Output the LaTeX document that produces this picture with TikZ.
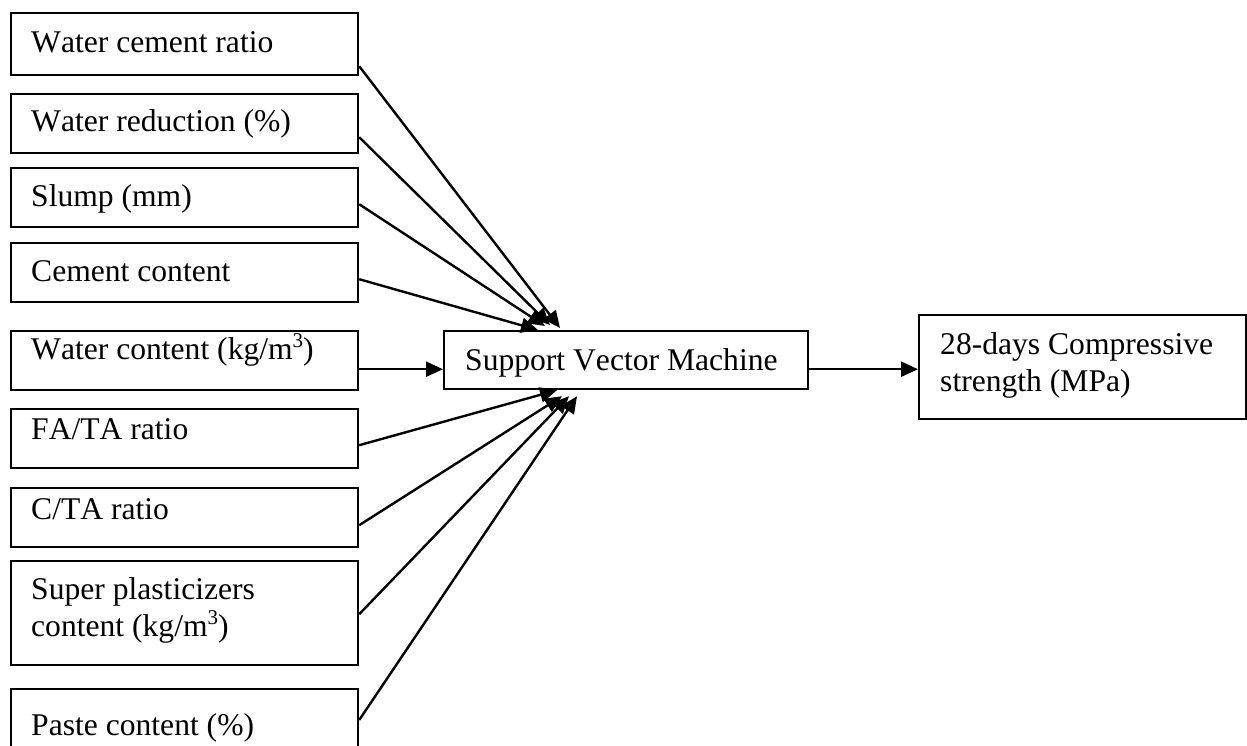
\documentclass[tikz,border=0pt]{standalone}
\usepackage{fontspec}
\setmainfont{Liberation Serif}[Kerning=Off]
\usetikzlibrary{arrows.meta,calc}
\newcommand\cubesup{\raisebox{0.38em}{\fontsize{21}{21}\selectfont 3}}
\begin{document}
\begin{tikzpicture}[x=1pt,y=-1pt,
  box/.style={draw, line width=2.2pt, inner sep=0pt, anchor=north west},
  txt/.style={anchor=base west, inner sep=0pt, font=\fontsize{31.6}{36.7}\selectfont, align=left},
  arr/.style={line width=2.4pt, -{Triangle[length=17pt,width=15pt]}}]
\useasboundingbox (0,0) rectangle (1247,745);
\clip (0,0) rectangle (1247,745);
% input boxes
\node[box, minimum width=347pt, minimum height=62pt] (b1) at (10,12) {};
\node[box, minimum width=347pt, minimum height=59pt] (b2) at (10,93) {};
\node[box, minimum width=347pt, minimum height=59pt] (b3) at (10,167) {};
\node[box, minimum width=347pt, minimum height=59pt] (b4) at (10,242) {};
\node[box, minimum width=347pt, minimum height=59pt] (b5) at (10,330) {};
\node[box, minimum width=347pt, minimum height=59pt] (b6) at (10,408) {};
\node[box, minimum width=347pt, minimum height=59pt] (b7) at (10,487) {};
\node[box, minimum width=347pt, minimum height=104pt] (b8) at (10,560) {};
\node[box, minimum width=347pt, minimum height=90pt] (b9) at (10,688) {};
% model and output
\node[box, minimum width=364pt, minimum height=58pt] (svm) at (443,330) {};
\node[box, minimum width=327pt, minimum height=104pt] (out) at (918,314) {};
% texts (multi-line nodes are anchored at the baseline of their last line)
\node[txt] (t1) at ($(b1.north west)+(21,40.3)$) {Water cement ratio};
\node[txt] (t2) at ($(b2.north west)+(21,38.7)$) {Water reduction (\%)};
\node[txt] (t3) at ($(b3.north west)+(21,39.7)$) {Slump (mm)};
\node[txt] (t4) at ($(b4.north west)+(21,39.7)$) {Cement content};
\node[txt] (t5) at ($(b5.north west)+(21,29.3)$) {Water content (kg/m\cubesup)};
\node[txt] (t6) at ($(b6.north west)+(21,31)$) {FA/TA ratio};
\node[txt] (t7) at ($(b7.north west)+(21,32)$) {C/TA ratio};
\node[txt] (t8) at ($(b8.north west)+(21,76)$) {Super plasticizers\\content (kg/m\cubesup)};
\node[txt] (t9) at ($(b9.north west)+(21,47)$) {Paste content (\%)};
\node[txt] (tsvm) at ($(svm.north west)+(22,40.7)$) {Support Vector Machine};
\node[txt] (tout) at ($(out.north west)+(22,77)$) {28-days Compressive\\strength (MPa)};
% start points
\coordinate (s1) at ($(b1.south east)+(0,-10)$);
\coordinate (s2) at ($(b2.south east)+(0,-17)$);
\coordinate (s3) at ($(b3.south east)+(0,-24)$);
\coordinate (s4) at ($(b4.south east)+(0,-24)$);
\coordinate (s5) at ($(b5.south east)+(0,-22)$);
\coordinate (s6) at ($(b6.south east)+(0,-24)$);
\coordinate (s7) at ($(b7.south east)+(0,-23)$);
\coordinate (s8) at ($(b8.south east)+(0,-52)$);
\coordinate (s9) at ($(b9.north east)+(0,32)$);
% tips on the model box
\coordinate (e1) at ($(svm.north west)+(117,-2)$);
\coordinate (e2) at ($(svm.north west)+(107,-5)$);
\coordinate (e3) at ($(svm.north west)+(102,-4)$);
\coordinate (e4) at ($(svm.north west)+(95,0)$);
\coordinate (e6) at ($(svm.south west)+(114,0)$);
\coordinate (e7) at ($(svm.south west)+(119,6)$);
\coordinate (e8) at ($(svm.south west)+(126,6)$);
\coordinate (e9) at ($(svm.south west)+(134,6)$);
\coordinate (so) at ($(svm.south east)+(0,-21)$);
% connectors
\draw[arr] (s1) -- (e1);
\draw[arr] (s2) -- (e2);
\draw[arr] (s3) -- (e3);
\draw[arr] (s4) -- (e4);
\draw[arr] (s5) -- (svm.west |- s5);
\draw[arr] (s6) -- (e6);
\draw[arr] (s7) -- (e7);
\draw[arr] (s8) -- (e8);
\draw[arr] (s9) -- (e9);
\draw[arr] (so) -- (out.west |- so);
\end{tikzpicture}
\end{document}
